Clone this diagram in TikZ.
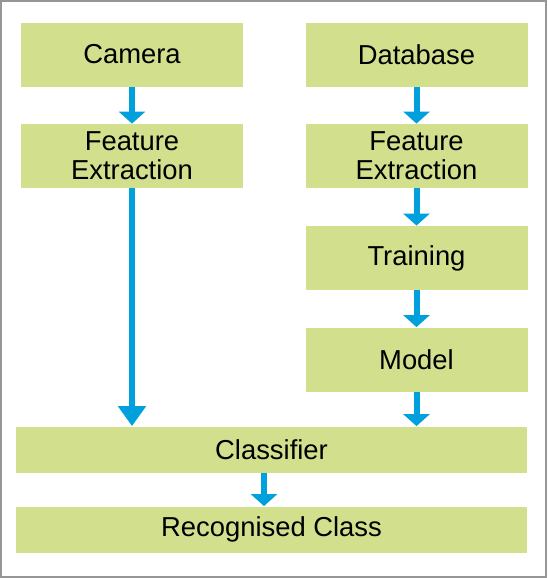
\documentclass[tikz,border=0pt]{standalone}
\usepackage{fontspec}
\setmainfont{Liberation Sans}
\usepackage{tikz}
\usetikzlibrary{arrows.meta}
\usetikzlibrary{positioning}
\definecolor{boxgreen}{RGB}{210,224,142}
\definecolor{flowblue}{RGB}{0,160,220}
\definecolor{framegray}{RGB}{150,150,150}
\tikzset{stage/.style = {fill = boxgreen, inner sep = 0, align = center,
                         font = \fontsize{13.7}{14.5}\selectfont,
                         minimum width = 111pt, minimum height = 32pt}}
\tikzset{wide/.style = {stage, minimum width = 255.5pt, minimum height = 23pt}}
\tikzset{flow/.style = {draw = flowblue, line width = 3pt,
                        -{Triangle[width = 13pt, length = 6pt]}}}
\tikzset{longflow/.style = {flow, -{Triangle[width = 13.5pt, length = 10pt]}}}

\begin{document}
\begin{tikzpicture}[x = 0.5pt, y = -0.5pt]
      \useasboundingbox (0, 0) rectangle (547, 578);
      \draw [framegray, line width = 1pt] (1, 1) rectangle (546, 577);

      \node [stage] (camera) at (132, 54.5) {Camera};
      \node [stage] (featL) at (132, 156) {Feature\\Extraction};

      \node [stage] (database) at (416.5, 54.5) {Database};
      \node [stage] (featR) at (416.5, 156) {Feature\\Extraction};
      \node [stage] (training) at (416.5, 258) {Training};
      \node [stage] (model) at (416.5, 359.5) {Model};

      \node [wide] (classifier) at (271.5, 449.5) {Classifier};
      \node [wide] (result) at (271.5, 529.5) {Recognised Class};

      \draw [flow] (camera) -- (featL);
      \draw [flow] (database) -- (featR);
      \draw [flow] (featR) -- (training);
      \draw [flow] (training) -- (model);
      \draw [longflow] (featL.south) -- (featL.south |- classifier.north);
      \draw [flow] (model.south) -- (model.south |- classifier.north);
      \draw [flow] (classifier.south -| 264, 0) -- (264, 0 |- result.north);

    \end{tikzpicture}
\end{document}
